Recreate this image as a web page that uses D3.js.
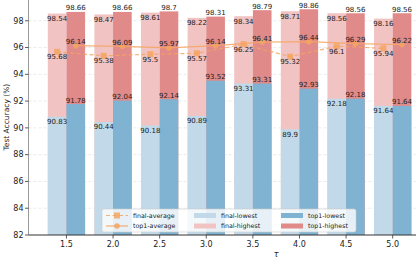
<!DOCTYPE html>
<html>
<head>
<meta charset="utf-8">
<style>
  body { margin: 0; background: #fff; }
  text { font-family: "DejaVu Sans", sans-serif; fill: #222; }
</style>
</head>
<body>
<div id="chart"></div>
<script src="https://cdn.jsdelivr.net/npm/d3@7"></script>
<script>
// values
var taus = [1.5, 2.0, 2.5, 3.0, 3.5, 4.0, 4.5, 5.0];
var finalLowest  = [90.83, 90.44, 90.18, 90.89, 93.31, 89.9, 92.18, 91.64];
var finalHighest = [98.54, 98.47, 98.61, 98.22, 98.34, 98.71, 98.56, 98.16];
var top1Lowest   = [91.78, 92.04, 92.14, 93.52, 93.31, 92.93, 92.18, 91.64];
var top1Highest  = [98.66, 98.66, 98.7, 98.31, 98.79, 98.86, 98.56, 98.56];
var finalAverage = [95.68, 95.38, 95.5, 95.57, 96.25, 95.32, 96.1, 95.94];
var top1Average  = [96.14, 96.09, 95.97, 96.14, 96.41, 96.44, 96.29, 96.22];
var yTicks = [82, 84, 86, 88, 90, 92, 94, 96, 98];

var W = 416, H = 261;
var plot = {left: 28.5, right: 416, top: 0, bottom: 235};
var barW = 0.2;

var svg = d3.select("#chart").append("svg").attr("width", W).attr("height", H);

var x = d3.scaleLinear().domain([1.093, 5.25]).range([plot.left, plot.right]);
var y = d3.scaleLinear().domain([82, 99.55]).range([plot.bottom, plot.top]);

var col = {
  finalLow: "#c1d9e8", finalHigh: "#f1c3c3",
  top1Low: "#80b2d1", top1High: "#e08a8a",
  avg: "#f4a460"
};

// grid
svg.append("g").selectAll("line").data(yTicks.slice(1)).enter().append("line")
  .attr("x1", plot.left).attr("x2", plot.right)
  .attr("y1", function (d) { return y(d); }).attr("y2", function (d) { return y(d); })
  .attr("stroke", "#ddd").attr("stroke-width", 0.6).attr("stroke-dasharray", "3,2");

// bars: highest from the floor, lowest drawn on top
function bars(vals, offset, color) {
  svg.append("g").selectAll("rect").data(vals).enter().append("rect")
    .attr("x", function (d, i) { return x(taus[i] + offset); })
    .attr("width", x(taus[0] + barW) - x(taus[0]))
    .attr("y", function (d) { return y(d); })
    .attr("height", function (d) { return y(82) - y(d); })
    .attr("fill", color);
}
bars(finalHighest, -barW, col.finalHigh);
bars(top1Highest, 0, col.top1High);
bars(finalLowest, -barW, col.finalLow);
bars(top1Lowest, 0, col.top1Low);

// average lines
var fx = function (d, i) { return x(taus[i] - barW / 2); };
var tx = function (d, i) { return x(taus[i] + barW / 2); };
var lineF = d3.line().x(fx).y(function (d) { return y(d); });
var lineT = d3.line().x(tx).y(function (d) { return y(d); });

svg.append("path").attr("d", lineF(finalAverage)).attr("fill", "none")
  .attr("stroke", col.avg).attr("stroke-width", 1.2).attr("stroke-dasharray", "4,2.5").attr("opacity", 0.85);
svg.append("path").attr("d", lineT(top1Average)).attr("fill", "none")
  .attr("stroke", col.avg).attr("stroke-width", 1.2).attr("opacity", 0.85);

svg.append("g").selectAll("rect").data(finalAverage).enter().append("rect")
  .attr("x", function (d, i) { return fx(d, i) - 3; })
  .attr("y", function (d) { return y(d) - 3; })
  .attr("width", 6).attr("height", 6).attr("fill", col.avg).attr("opacity", 0.85);
svg.append("g").selectAll("circle").data(top1Average).enter().append("circle")
  .attr("cx", tx).attr("cy", function (d) { return y(d); })
  .attr("r", 2.8).attr("fill", col.avg).attr("opacity", 0.85);

// value labels
function labels(vals, xf, above) {
  svg.append("g").selectAll("text").data(vals).enter().append("text")
    .attr("x", xf)
    .attr("y", function (d) { return above ? y(d) - 1.5 : y(d) + 7.5; })
    .attr("text-anchor", "middle").style("font-size", "7px")
    .text(function (d) { return String(d); });
}
labels(finalHighest, fx, false);
labels(top1Highest, tx, true);
labels(finalLowest, fx, false);
labels(top1Lowest, tx, true);
labels(finalAverage, fx, false);
labels(top1Average, tx, true);

// axes
svg.append("line").attr("x1", plot.left).attr("x2", plot.left)
  .attr("y1", plot.top).attr("y2", plot.bottom).attr("stroke", "#999").attr("stroke-width", 1);
svg.append("line").attr("x1", plot.left).attr("x2", plot.right)
  .attr("y1", plot.bottom).attr("y2", plot.bottom).attr("stroke", "#333").attr("stroke-width", 1);

var yg = svg.append("g").selectAll("g").data(yTicks).enter().append("g");
yg.append("line").attr("x1", plot.left - 3.5).attr("x2", plot.left)
  .attr("y1", function (d) { return y(d); }).attr("y2", function (d) { return y(d); })
  .attr("stroke", "#333").attr("stroke-width", 0.8);
yg.append("text").attr("x", plot.left - 5).attr("y", function (d) { return y(d) + 2.8; })
  .attr("text-anchor", "end").style("font-size", "8px").text(function (d) { return d; });

var xg = svg.append("g").selectAll("g").data(taus).enter().append("g");
xg.append("line").attr("x1", function (d) { return x(d); }).attr("x2", function (d) { return x(d); })
  .attr("y1", plot.bottom).attr("y2", plot.bottom + 3.5).attr("stroke", "#333").attr("stroke-width", 0.8);
xg.append("text").attr("x", function (d) { return x(d); }).attr("y", plot.bottom + 12)
  .attr("text-anchor", "middle").style("font-size", "8px").text(function (d) { return d.toFixed(1); });

svg.append("text").attr("x", x(3.75)).attr("y", 257).attr("text-anchor", "middle")
  .style("font-size", "8px").style("font-style", "italic").text("τ");
svg.append("text").attr("transform", "translate(9," + y(90.8) + ") rotate(-90)")
  .attr("text-anchor", "middle").style("font-size", "7.5px").text("Test Accuracy (%)");

// legend
var lg = svg.append("g").attr("transform", "translate(102,209)");
lg.append("rect").attr("width", 254).attr("height", 23).attr("rx", 2)
  .attr("fill", "#fff").attr("fill-opacity", 0.8).attr("stroke", "#ccc").attr("stroke-width", 0.6);
var legendItems = [
  {name: "final-average", kind: "dash", col: 0, row: 0},
  {name: "top1-average", kind: "solid", col: 0, row: 1},
  {name: "final-lowest", kind: "patch", color: col.finalLow, col: 1, row: 0},
  {name: "final-highest", kind: "patch", color: col.finalHigh, col: 1, row: 1},
  {name: "top1-lowest", kind: "patch", color: col.top1Low, col: 2, row: 0},
  {name: "top1-highest", kind: "patch", color: col.top1High, col: 2, row: 1}
];
var colX = [4, 92, 179];
legendItems.forEach(function (it) {
  var g = lg.append("g").attr("transform", "translate(" + colX[it.col] + "," + (6.5 + it.row * 10.5) + ")");
  if (it.kind === "patch") {
    g.append("rect").attr("x", 0).attr("y", -2.5).attr("width", 22).attr("height", 5).attr("fill", it.color);
  } else {
    g.append("line").attr("x1", 0).attr("x2", 22).attr("y1", 0).attr("y2", 0)
      .attr("stroke", col.avg).attr("stroke-width", 1.2).attr("opacity", 0.85)
      .attr("stroke-dasharray", it.kind === "dash" ? "4,2.5" : null);
    if (it.kind === "dash") {
      g.append("rect").attr("x", 8).attr("y", -3).attr("width", 6).attr("height", 6).attr("fill", col.avg).attr("opacity", 0.85);
    } else {
      g.append("circle").attr("cx", 11).attr("cy", 0).attr("r", 2.8).attr("fill", col.avg).attr("opacity", 0.85);
    }
  }
  g.append("text").attr("x", 27).attr("y", 2.3).style("font-size", "6.3px").text(it.name);
});
</script>
</body>
</html>
